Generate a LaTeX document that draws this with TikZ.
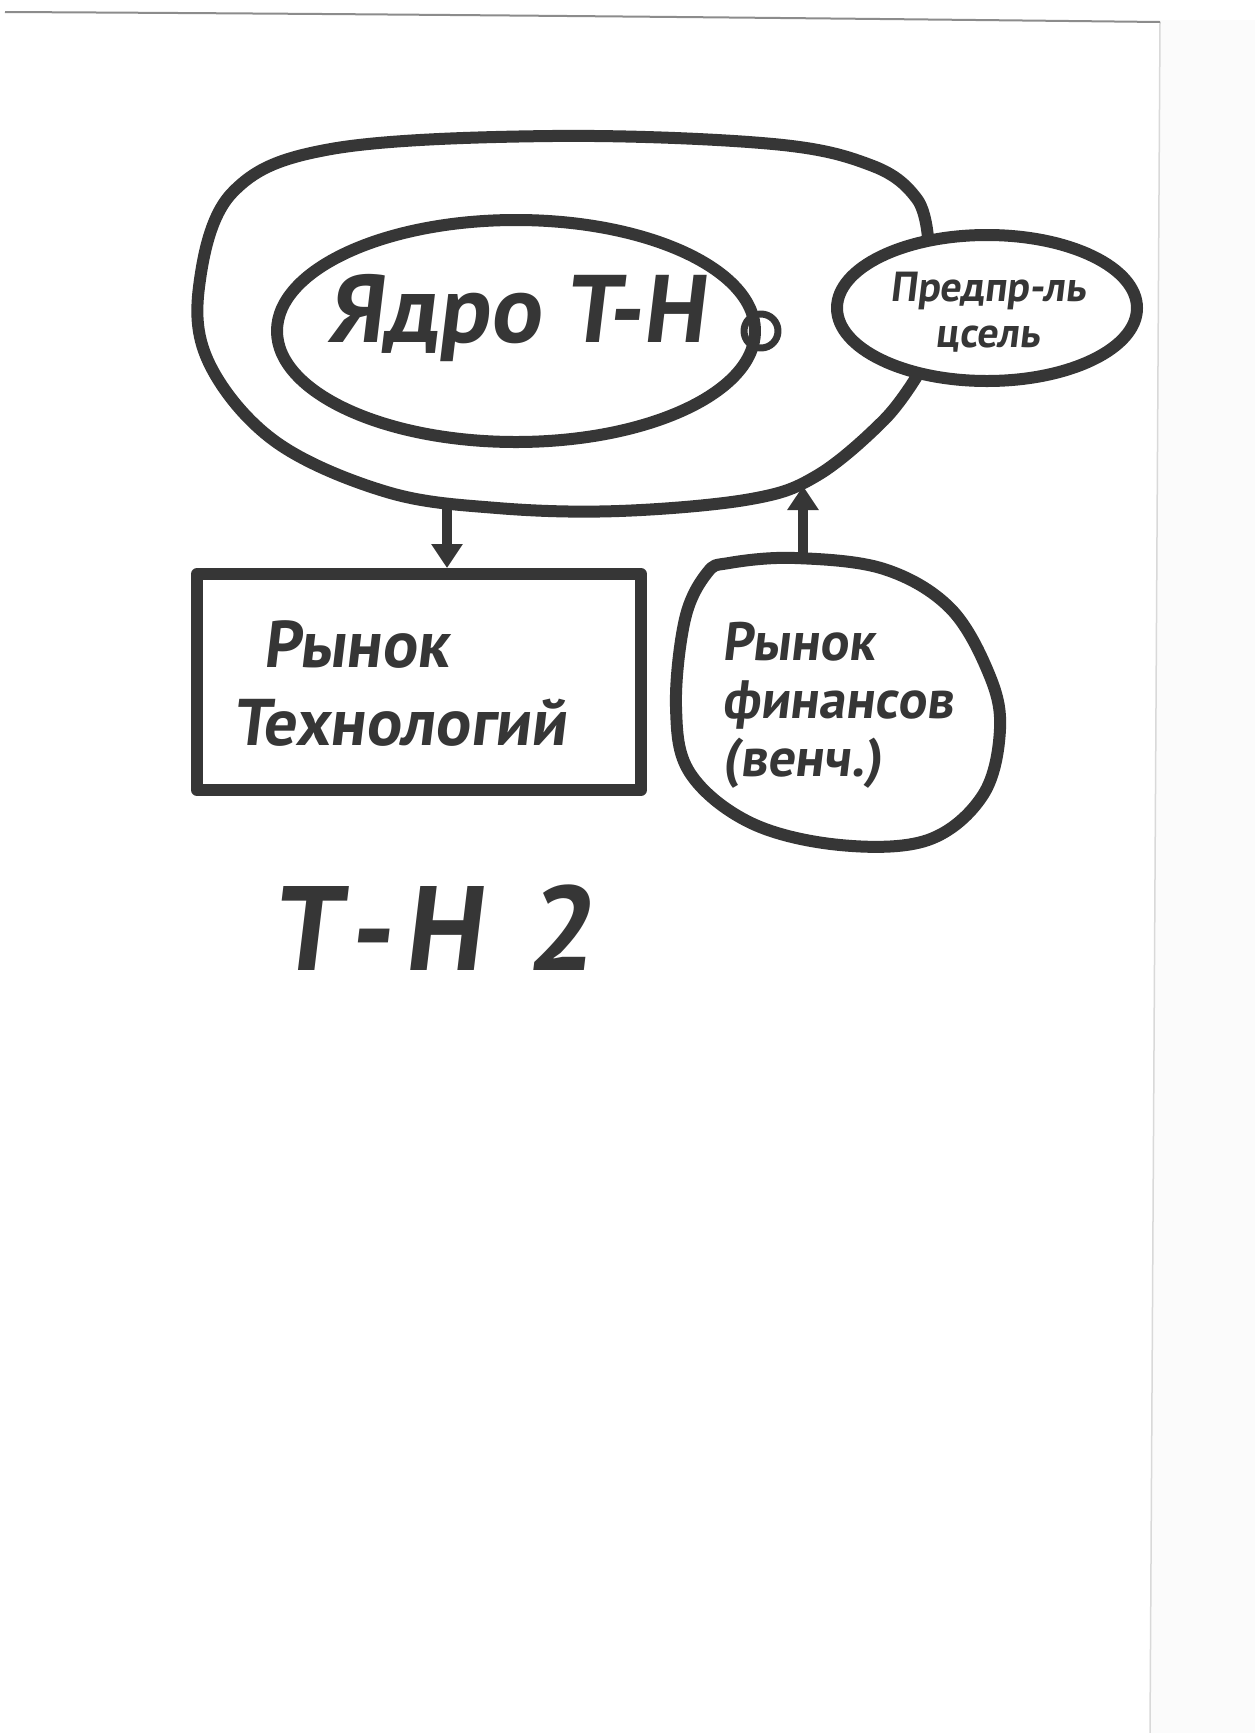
\documentclass[tikz,border=0pt]{standalone}
\usepackage{fontspec}
\setmainfont{PT Sans}
\newfontfamily\hand[FakeSlant=0.12]{PT Sans}
\usetikzlibrary{arrows.meta,shapes.geometric}
\definecolor{ink}{HTML}{363636}
\tikzset{
  marker/.style={draw=ink, line width=12pt, line cap=round, line join=round},
  lbl/.style={text=ink, font=\hand\bfseries, align=center, inner sep=0pt},
  flow/.style={marker, line width=10pt, -{Triangle[length=24pt,width=30pt]}}
}
\begin{document}
\begin{tikzpicture}[x=1pt,y=-1pt]
\useasboundingbox (0,0) rectangle (1255,1733);
\fill[white] (0,0) rectangle (1255,1733);
% paper edges of the scan
\fill[black!1.5] (1160,20) -- (1255,20) -- (1255,1733) -- (1150,1733) -- cycle;
\draw[black!15, line width=1.5pt] (1160,22) -- (1150,1733);
\draw[black!45, line width=2pt] (5,12) .. controls (400,14) and (800,18) .. (1160,22);

% inner ellipse (core)
\node[marker, ellipse, minimum width=478pt, minimum height=222pt] (core) at (516,331) {};
\node[lbl, font=\hand\bfseries\fontsize{96}{100}\selectfont] (coretext) at (516,318) {Ядро Т-Н};
\node[marker, line width=7pt, circle, minimum size=34pt, inner sep=0pt] (ring) at (core.east) {};

% small oval (entrepreneur)
\node[marker, ellipse, minimum width=300pt, minimum height=146pt] (entr) at (987,308) {};
\node[lbl, font=\hand\bfseries\fontsize{42}{44}\selectfont] (entrtext) at (988,312) {Предпр-ль\\[2pt]цсель};

% outer shape
\draw[marker] plot[smooth, tension=0.6] coordinates {
 (928,238) (917,199) (873,166) (773,144) (552,136) (331,149) (232,193)
 (199,287) (210,365) (276,442) (387,492) (497,508) (619,511) (751,499)
 (818,475) (884,420) (917,376)};
\coordinate (outdown) at (447,503);
\coordinate (outup) at (803,486);

% technology market
\node[marker, rectangle, minimum width=444pt, minimum height=216pt] (tech) at (419,682) {};
\node[lbl, font=\hand\bfseries\fontsize{66}{70}\selectfont, align=left] (techtext) at (400,684) {\hspace*{30pt}Рынок\\[8pt]Технологий};

% finance market blob
\draw[marker] plot[smooth cycle, tension=0.6] coordinates {
 (729,563) (795,558) (884,569) (950,608) (989,674) (1000,729) (983,795)
 (928,840) (840,845) (751,823) (690,773) (676,707) (685,619) (707,573)};
\coordinate (fin) at (803,558);
\node[lbl, font=\hand\bfseries\fontsize{54}{58}\selectfont, align=left] (fintext) at (838,705) {Рынок\\финансов\\(венч.)};

% arrows
\draw[flow] (outdown) -- (tech.north -| outdown);
\draw[flow] (fin) -- (outup);

% title
\node[lbl, font=\hand\bfseries\fontsize{120}{124}\selectfont] (title) at (433,928) {Т\hspace{8pt}-\hspace{12pt}Н\hspace{14pt} 2};
\end{tikzpicture}
\end{document}
